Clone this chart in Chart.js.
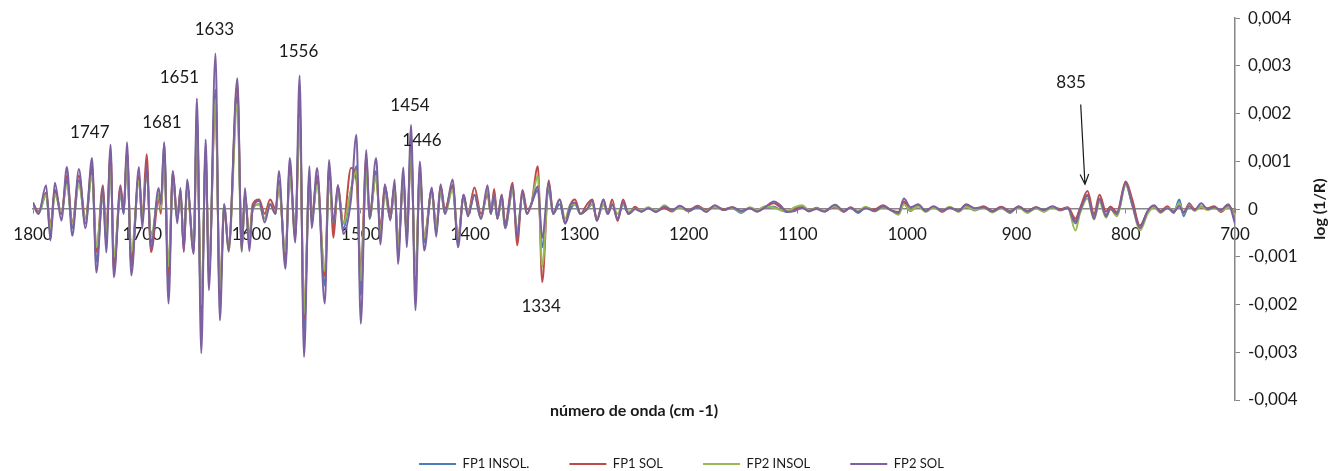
<!DOCTYPE html>
<html lang="es">
<head>
<meta charset="utf-8">
<title>Espectro derivado FP1 / FP2</title>
<script src="https://cdn.jsdelivr.net/npm/chart.js@4/dist/chart.umd.min.js"></script>
<style>
  html, body { margin: 0; padding: 0; background: #fff; }
  #wrap { width: 1330px; height: 471px; position: relative; }
</style>
</head>
<body>
<div id="wrap"><canvas id="espectro"></canvas></div>
<script>
// Numero de onda (cm-1) de cada punto
const numeroOnda = [
  1800, 1795, 1788, 1784, 1780, 1774, 1769, 1764, 1758, 1752, 1746, 1742, 1736, 1733, 1729, 1726,
  1720, 1717, 1714, 1710, 1703, 1700, 1696, 1692, 1685, 1683, 1680, 1676, 1672, 1668, 1665, 1662,
  1659, 1653, 1650, 1646, 1642, 1639, 1633, 1629, 1625, 1621, 1613, 1609, 1606, 1602, 1599, 1593,
  1588, 1583, 1578, 1575, 1569, 1565, 1560, 1556, 1552, 1547, 1545, 1540, 1533, 1529, 1525, 1521,
  1516, 1509, 1504, 1500, 1495, 1492, 1486, 1482, 1478, 1473, 1469, 1466, 1461, 1458, 1454, 1450,
  1446, 1442, 1435, 1431, 1427, 1423, 1416, 1411, 1406, 1402, 1396, 1390, 1384, 1381, 1378, 1375,
  1371, 1368, 1361, 1357, 1352, 1348, 1344, 1338, 1334, 1328, 1324, 1318, 1313, 1308, 1304, 1299,
  1293, 1288, 1284, 1278, 1274, 1270, 1265, 1260, 1255, 1249, 1243, 1237, 1230, 1222, 1215, 1208,
  1200, 1192, 1184, 1176, 1168, 1160, 1152, 1144, 1137, 1130, 1122, 1116, 1110, 1103, 1096, 1090,
  1083, 1076, 1066, 1058, 1052, 1045, 1038, 1030, 1022, 1015, 1008, 1003, 997, 990, 983, 976,
  968, 961, 953, 946, 938, 930, 922, 914, 906, 898, 890, 882, 875, 867, 860, 853,
  846, 842, 835, 829, 824, 818, 814, 808, 800, 794, 787, 780, 774, 768, 762, 756,
  751, 747, 742, 737, 731, 725, 719, 713, 706, 700
];

// log (1/R) de cada muestra
const fp1Insol = [
  0.0001, -0.0001, 0.0003, -0.0005, 0.0004, -0.0001, 0.0006, -0.0004, 0.0006, -0.0003, 0.0008, -0.0011, 0.0003, -0.0007, 0.0011, -0.0012,
  0.0003, -0.0001, 0.0012, -0.0012, 0.0007, -0.0003, 0.0009, -0.0007, 0.0003, 0.0, 0.0014, -0.0016, 0.0007, -0.0002, 0.0003, -0.0008,
  0.0005, -0.0008, 0.002, -0.0024, 0.0012, -0.0014, 0.0025, -0.0019, 0.0001, -0.0008, 0.0024, -0.0008, 0.0003, -0.0007, 0.0, 0.0001,
  -0.0002, 0.0001, -0.0001, 0.0006, -0.0011, 0.0008, -0.0005, 0.0022, -0.0026, 0.0007, -0.0003, 0.0006, -0.0016, 0.0007, -0.0004, 0.0004,
  -0.0004, 0.0004, 0.0009, -0.0018, 0.0009, -0.0002, 0.0008, -0.0005, 0.0004, -0.0002, 0.0005, -0.0009, 0.0007, -0.0006, 0.0014, -0.0017,
  0.0008, -0.0007, 0.0004, -0.0005, 0.0004, -0.0001, 0.0005, -0.0007, 0.0003, -0.0001, 0.0003, -0.0002, 0.0004, -0.0001, 0.0003, -0.0002,
  0.0002, -0.0004, 0.0004, -0.0005, 0.0003, -0.0001, 0.0001, 0.0004, -0.0008, 0.0004, -0.0001, 0.0001, -0.0003, 0.0, 0.0001, -0.0001,
  0.0, 0.0001, -0.0002, 0.0001, -0.0001, 0.0001, -0.0002, 0.0001, -0.0001, 0.0, -0.00005, 0.00003, -0.00006, 0.00005, -0.00002, 0.00005,
  -0.00004, 0.00004, -0.00003, 0.00006, -0.00002, 0.00002, -0.00008, 0.00003, -0.00003, 0.00005, 0.00005, -0.00002, -0.00006, 0.00002, 0.00006, -0.00003,
  0.00002, -0.00005, 0.00008, -0.00004, 0.00003, -0.00008, 0.00004, -0.00003, 0.00005, -0.00002, -0.00008, 0.00012, -0.00004, 0.00008, -0.00005, 0.00004,
  -0.00004, 0.00004, -0.00004, 0.00006, -0.00003, 0.00004, -0.00005, 0.00003, -0.00008, 0.00006, -0.00006, 0.00002, -0.00004, 0.00004, -0.00002, 0.00003,
  -0.00025, 0.0, 0.0003, -0.00015, 0.0002, -0.00012, 0.00005, -0.00012, 0.00052, 0.0001, -0.00035, -0.00005, 0.00005, -0.00006, 0.00004, -0.00008,
  0.0002, -0.00015, 0.00012, -0.00002, 0.00006, 0.0, 0.00004, -0.00004, 0.00008, -0.00015
];
const fp1Sol = [
  0.00012, -0.00005, 0.00035, -0.00035, 0.0004, -0.0001, 0.0007, -0.0003, 0.0007, -0.0002, 0.0009, -0.0009, 0.0005, -0.0005, 0.0012, -0.0013,
  0.0005, 0.0, 0.0012, -0.0011, 0.0007, -0.0002, 0.00115, -0.0009, 0.0002, -0.0001, 0.0012, -0.0014, 0.0008, -0.0002, 0.0004, -0.0009,
  0.0005, -0.0009, 0.0017, -0.0022, 0.0011, -0.0013, 0.0023, -0.0018, 0.0, -0.0008, 0.0026, -0.0008, 0.0003, -0.0006, 0.0001, 0.0002,
  -0.0001, 0.0002, 0.0, 0.0005, -0.001, 0.0009, -0.0006, 0.002, -0.0023, 0.0006, -0.0002, 0.0007, -0.0014, 0.0009, -0.0006, 0.0005,
  -0.0003, 0.00086, 0.0006, -0.0013, 0.0011, -0.0001, 0.0007, -0.0004, 0.0005, -0.0001, 0.0005, -0.0008, 0.0006, -0.0005, 0.0012, -0.0015,
  0.0008, -0.0006, 0.0004, -0.0004, 0.0005, 0.0, 0.0005, -0.0006, 0.0003, -0.0001, 0.00045, -0.0001, 0.0003, -0.0001, 0.00042, -0.0002,
  0.0003, -0.0003, 0.00055, -0.00076, 0.0004, 0.0, 0.0001, 0.0009, -0.00153, 0.0006, -0.0001, 0.0002, -0.0003, 0.0001, 0.0002, -0.0001,
  0.0001, 0.0002, -0.00025, 0.0002, -0.0001, 0.0002, -0.00025, 0.0002, -0.0001, 0.00005, -0.00005, 0.00002, -0.00004, 0.00002, -0.00005, 0.00006,
  -0.00003, 0.00007, -0.00002, 0.00006, 0.0, 0.00004, -0.00004, 0.00002, -0.00005, 0.00004, 0.00012, 0.00004, -0.00004, 0.0, 0.00004, -0.00005,
  0.00003, -0.00004, 0.00005, -0.00006, 0.00004, -0.00005, 0.00003, -0.00001, 0.00008, -0.00002, -0.00006, 0.00016, -0.00002, 0.00006, -0.00003, 0.00005,
  -0.00006, 0.00003, -0.00003, 0.00008, 0.0, 0.00006, -0.00004, 0.00005, -0.00004, 0.00005, -0.00004, 0.00004, -0.00003, 0.00005, 0.0, 0.00004,
  -0.0002, 0.0, 0.00038, -0.0001, 0.0003, -0.00005, 0.00005, -0.00006, 0.00058, 0.0002, -0.00035, -0.00006, 0.00006, -0.00004, 0.00006, -0.00006,
  0.00008, -0.00006, 0.0001, 0.0, 0.00004, 0.00002, 0.00006, -0.00006, 0.00006, -0.0001
];
const fp2Insol = [
  0.0001, -0.00008, 0.0003, -0.0004, 0.0003, -0.00005, 0.0005, -0.0003, 0.0005, -0.0002, 0.0007, -0.0008, 0.0003, -0.0005, 0.0009, -0.001,
  0.0003, 0.0, 0.001, -0.0009, 0.0006, -0.0002, 0.0008, -0.0006, 0.0003, 0.0, 0.001, -0.0012, 0.0006, -0.0002, 0.0003, -0.0007,
  0.0004, -0.0008, 0.0017, -0.002, 0.001, -0.0012, 0.0023, -0.0017, 0.0001, -0.0009, 0.0022, -0.0009, 0.0003, -0.0007, 0.0, 0.0001,
  -0.0002, 0.0001, -0.0001, 0.0005, -0.0009, 0.0007, -0.0005, 0.0019, -0.0022, 0.0006, -0.0002, 0.0005, -0.0013, 0.0006, -0.0003, 0.0004,
  -0.0003, 0.0004, 0.0008, -0.0015, 0.0008, -0.0002, 0.0007, -0.0005, 0.0003, -0.0002, 0.0004, -0.0008, 0.0006, -0.0006, 0.0012, -0.0014,
  0.0007, -0.0006, 0.0003, -0.0004, 0.0004, -0.0001, 0.0004, -0.0006, 0.0002, -0.0001, 0.0003, -0.0002, 0.0004, -0.0001, 0.0003, -0.0002,
  0.0002, -0.0004, 0.0004, -0.0005, 0.0003, -0.0001, 0.0001, 0.0007, -0.0012, 0.0005, -0.0001, 0.0002, -0.0002, 0.0001, 0.0001, -0.0001,
  0.0, 0.0001, -0.0002, 0.0001, -0.0001, 0.0001, -0.0001, 0.0001, -0.00005, 0.0, -0.00003, 0.00004, -0.00005, 0.00008, -0.00003, 0.00004,
  -0.00005, 0.00005, -0.00004, 0.00006, -0.00002, 0.00003, -0.00006, 0.00004, -0.00002, 0.00006, 0.00003, -0.00002, -0.00005, 0.00004, 0.00008, -0.00002,
  0.00001, -0.00004, 0.00006, -0.00004, 0.00002, -0.00004, 0.00005, -0.00005, 0.00004, -0.00002, -0.00012, 0.0001, -0.00003, 0.00006, -0.00006, 0.00003,
  -0.00003, 0.00005, -0.00006, 0.00005, -0.00002, 0.00003, -0.00007, 0.00002, -0.00006, 0.00004, -0.00008, 0.00002, -0.00006, 0.00004, -0.00003, 0.00002,
  -0.00045, -0.0001, 0.00022, -0.00022, 0.00015, -0.00018, 0.0, -0.00015, 0.0005, 0.00008, -0.00045, -0.0001, 0.00004, -0.00008, 0.00003, -0.00004,
  0.00012, -0.0001, 0.00008, -0.00004, 0.00005, -0.00002, 0.00002, -0.00003, 0.00004, -0.00012
];
const fp2Sol = [
  0.00014, -0.0001, 0.0005, -0.00066, 0.00055, -0.00024, 0.00088, -0.00056, 0.00084, -0.0004, 0.00107, -0.00133, 0.00044, -0.00091, 0.00135, -0.00143,
  0.00044, -0.0001, 0.0014, -0.00139, 0.00088, -0.0004, 0.0009, -0.00083, 0.00044, 0.0001, 0.00138, -0.00198, 0.00079, -0.0003, 0.00044, -0.00088,
  0.00062, -0.00094, 0.00232, -0.00302, 0.00146, -0.0017, 0.00326, -0.00233, 0.0001, -0.00088, 0.00274, -0.00088, 0.00044, -0.00088, 0.0, 0.00017,
  -0.00028, 0.0001, -0.0001, 0.0008, -0.00125, 0.00107, -0.0007, 0.0028, -0.0031, 0.0009, -0.0004, 0.00086, -0.00198, 0.00103, -0.0003, 0.0005,
  -0.00052, 0.0002, 0.00156, -0.0024, 0.00124, -0.0002, 0.00107, -0.00074, 0.00052, -0.00024, 0.00062, -0.00115, 0.00087, -0.0008, 0.00176, -0.00212,
  0.001, -0.00087, 0.00045, -0.00058, 0.00052, -0.0001, 0.00062, -0.0008, 0.0003, -0.00015, 0.0003, -0.0002, 0.0005, -0.0001, 0.0003, -0.0002,
  0.0003, -0.00039, 0.0005, -0.0006, 0.00038, -0.0001, 0.0001, 0.00048, -0.0006, 0.00055, -0.0001, 0.0002, -0.0003, 0.0001, 0.00014, -0.0001,
  0.0, 0.00018, -0.00024, 0.0002, -0.0001, 0.0001, -0.0002, 0.00015, -0.0001, 0.0, -0.00005, 0.00002, -0.00006, 0.00005, -0.00002, 0.00007,
  -0.00004, 0.00005, -0.00006, 0.00008, -0.00002, 0.00004, -0.00004, 0.00002, -0.00005, 0.00004, 0.00016, 0.00008, -0.00006, -0.00004, 0.00003, -0.00004,
  0.0, -0.00005, 0.00009, -0.00004, 0.00003, -0.00006, 0.00002, -0.00004, 0.00006, -0.00002, -0.00008, 0.00022, 0.00004, 0.0001, -0.00004, 0.00006,
  -0.00003, 0.00003, -0.00004, 0.0001, 0.00002, 0.00004, -0.00005, 0.00004, -0.00006, 0.00005, -0.00005, 0.00004, -0.00002, 0.00006, -0.00002, 0.00002,
  -0.0003, -0.00005, 0.00028, -0.0002, 0.00022, -0.00015, 0.0, -0.0001, 0.00055, 0.0001, -0.0004, -0.00004, 0.00008, -0.00006, 0.00002, -0.00005,
  0.00006, -0.00008, 0.00006, -0.00002, 0.00012, 0.0, 0.00004, -0.00002, 0.0001, -0.0003
];

const series = ["FP1 INSOL.", "FP1 SOL", "FP2 INSOL", "FP2 SOL"];
const colores = ["#4A7EBB", "#BE4B48", "#98B954", "#7D60A0"];

// etiquetas de picos (texto, numero de onda y altura donde va el texto)
const picosTexto = ["1747", "1681", "1651", "1633", "1556", "1454", "1446", "1334", "835"];
const picosOnda = [1748, 1682, 1666, 1634, 1557, 1455, 1444, 1335, 850];
const picosValor = [0.0016, 0.00182, 0.00275, 0.00376, 0.0033, 0.00217, 0.00144, -0.00204, 0.00265];

// flecha del pico 835: [onda inicio, valor inicio, onda fin, valor fin]
const flecha835 = [841.2, 0.00219, 837.3, 0.00052];

const tituloX = "número de onda (cm -1)";
const tituloY = "log (1/R)";

const fuente = "Lato, 'Open Sans', sans-serif";

function puntos(valores) {
  return numeroOnda.map((x, i) => ({ x: x, y: valores[i] }));
}

// textos extra: picos, flecha y titulos de ejes
const anotaciones = {
  id: "anotaciones",
  afterDatasetsDraw(chart) {
    const { ctx, chartArea, scales } = chart;
    ctx.save();
    ctx.fillStyle = "#1a1a1a";
    ctx.font = "17px " + fuente;
    ctx.textAlign = "center";
    ctx.textBaseline = "middle";
    picosTexto.forEach((t, i) => {
      ctx.fillText(t, scales.x.getPixelForValue(picosOnda[i]), scales.y.getPixelForValue(picosValor[i]));
    });

    // flecha
    const x1 = scales.x.getPixelForValue(flecha835[0]);
    const y1 = scales.y.getPixelForValue(flecha835[1]);
    const x2 = scales.x.getPixelForValue(flecha835[2]);
    const y2 = scales.y.getPixelForValue(flecha835[3]);
    const ang = Math.atan2(y2 - y1, x2 - x1);
    ctx.strokeStyle = "#1a1a1a";
    ctx.lineWidth = 1.2;
    ctx.beginPath();
    ctx.moveTo(x1, y1);
    ctx.lineTo(x2, y2);
    ctx.moveTo(x2 - 11 * Math.cos(ang - 0.4), y2 - 11 * Math.sin(ang - 0.4));
    ctx.lineTo(x2, y2);
    ctx.lineTo(x2 - 11 * Math.cos(ang + 0.4), y2 - 11 * Math.sin(ang + 0.4));
    ctx.stroke();

    // titulos
    ctx.font = "bold 16px " + fuente;
    ctx.fillText(tituloX, (chartArea.left + chartArea.right) / 2, chartArea.bottom + 11);
    ctx.translate(chartArea.right + 85, (chartArea.top + chartArea.bottom) / 2);
    ctx.rotate(-Math.PI / 2);
    ctx.fillText(tituloY, 0, 0);
    ctx.restore();
  }
};

new Chart(document.getElementById("espectro").getContext("2d"), {
  type: "line",
  data: {
    datasets: [fp1Insol, fp1Sol, fp2Insol, fp2Sol].map((v, i) => ({
      label: series[i],
      data: puntos(v),
      borderColor: colores[i],
      backgroundColor: colores[i],
      borderWidth: 2,
      pointRadius: 0,
      cubicInterpolationMode: "monotone",
      order: 3 - i // FP2 SOL arriba
    }))
  },
  options: {
    responsive: true,
    maintainAspectRatio: false,
    animation: false,
    layout: { padding: { left: 33, top: 16, right: 0, bottom: -9.5 } },
    plugins: {
      tooltip: { enabled: false },
      legend: {
        position: "bottom",
        title: { display: true, text: "", font: { size: 17.5, lineHeight: 1 }, padding: 0 },
        labels: {
          usePointStyle: true,
          pointStyle: "line",
          pointStyleWidth: 37,
          padding: 40,
          color: "#1a1a1a",
          font: { family: fuente, size: 13 },
          sort: (a, b) => a.datasetIndex - b.datasetIndex
        }
      }
    },
    scales: {
      x: {
        type: "linear",
        position: { y: 0 },
        reverse: true,
        min: 700,
        max: 1800,
        border: { display: true, color: "#868686", width: 1.5 },
        grid: { display: true, drawOnChartArea: false, drawTicks: true, tickLength: 4, color: "#868686" },
        ticks: {
          stepSize: 100,
          autoSkip: false,
          maxRotation: 0,
          padding: 11,
          color: "#1a1a1a",
          font: { family: fuente, size: 17 },
          callback: (v) => String(Math.round(v))
        }
      },
      y: {
        position: "right",
        min: -0.004,
        max: 0.004,
        border: { display: true, color: "#868686", width: 1.5 },
        grid: { display: true, drawOnChartArea: false, drawTicks: true, tickLength: 5, color: "#868686" },
        ticks: {
          stepSize: 0.001,
          padding: 8,
          color: "#1a1a1a",
          font: { family: fuente, size: 17 },
          callback: (v) => (Math.abs(v) < 1e-9 ? "0" : v.toFixed(3).replace(".", ","))
        },
        afterFit: (scale) => { scale.width = 95; }
      }
    }
  },
  plugins: [anotaciones]
});
</script>
</body>
</html>
